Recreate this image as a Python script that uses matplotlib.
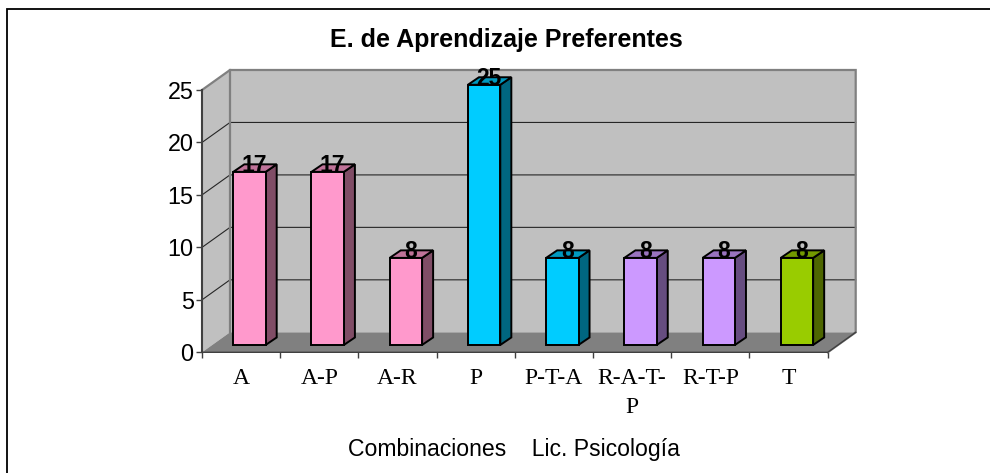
import matplotlib
matplotlib.use("Agg")
import matplotlib.pyplot as plt
from matplotlib.patches import Polygon
from matplotlib.lines import Line2D
from matplotlib.colors import to_rgb

categories = ["A", "A-P", "A-R", "P", "P-T-A", "R-A-T-\nP", "R-T-P", "T"]
values = [16.5, 16.5, 8.3, 24.8, 8.3, 8.3, 8.3, 8.3]
value_labels = ["17", "17", "8", "25", "8", "8", "8", "8"]
bar_colors = ["#FF99CC", "#FF99CC", "#FF99CC", "#00CCFF", "#00CCFF", "#CC99FF", "#CC99FF", "#99CC00"]
y_ticks = [0, 5, 10, 15, 20, 25]
title = "E. de Aprendizaje Preferentes"
x_label = "Combinaciones    Lic. Psicología"

W, H = 990, 473
fig = plt.figure(figsize=(W / 100, H / 100), dpi=100, facecolor="white")
ax = fig.add_axes([202 / W, (H - 352.3) / H, 625.7 / W, 262.3 / H])
ax.set_xlim(0, 8)
ax.set_ylim(0, 25)
ax.patch.set_visible(False)
for s in ax.spines.values():
    s.set_visible(False)

# projected depth in data units
wall_dx, wall_dy = 0.358, 1.907
off_x, off_y = 0.107, 0.70
bar_w = 0.414
bar_dx, bar_dy = 0.141, 0.715


def shade(c, f):
    return tuple(v * f for v in to_rgb(c))


# walls and floor
ax.add_patch(Polygon([(0, 0), (wall_dx, wall_dy), (wall_dx, 25 + wall_dy), (0, 25)],
                     closed=True, fc="#C0C0C0", ec="none", zorder=1, clip_on=False))
ax.add_patch(Polygon([(wall_dx, wall_dy), (8 + wall_dx, wall_dy), (8 + wall_dx, 25 + wall_dy), (wall_dx, 25 + wall_dy)],
                     closed=True, fc="#C0C0C0", ec="none", zorder=1, clip_on=False))
ax.add_patch(Polygon([(0, 0), (8, 0), (8 + wall_dx, wall_dy), (wall_dx, wall_dy)],
                     closed=True, fc="#808080", ec="none", zorder=1.5, clip_on=False))

# gridlines
for t in y_ticks[1:-1]:
    ax.plot([0, wall_dx, 8 + wall_dx], [t, t + wall_dy, t + wall_dy], color="#262626", lw=0.8,
            zorder=2, clip_on=False, solid_joinstyle="miter")

# wall edges
edge = dict(color="#808080", lw=1.6, zorder=2.5, clip_on=False, solid_joinstyle="miter")
ax.plot([0, wall_dx, 8 + wall_dx, 8 + wall_dx, 8], [25, 25 + wall_dy, 25 + wall_dy, wall_dy, 0], **edge)
ax.plot([wall_dx, wall_dx], [wall_dy, 25 + wall_dy], **edge)

# bars
xs = [i + 0.5 + off_x for i in range(len(values))]
for x, v, c in zip(xs, values, bar_colors):
    left, right = x - bar_w / 2, x + bar_w / 2
    top = off_y + v
    ax.add_patch(Polygon([(right, off_y), (right + bar_dx, off_y + bar_dy), (right + bar_dx, top + bar_dy), (right, top)],
                         closed=True, fc=shade(c, 0.5), ec="black", lw=1.4, zorder=3, joinstyle="miter", clip_on=False))
    ax.add_patch(Polygon([(left, top), (right, top), (right + bar_dx, top + bar_dy), (left + bar_dx, top + bar_dy)],
                         closed=True, fc=shade(c, 0.75), ec="black", lw=1.4, zorder=3, joinstyle="miter", clip_on=False))
ax.bar(xs, values, width=bar_w, bottom=off_y, color=bar_colors, edgecolor="black", linewidth=1.4, zorder=4, clip_on=False)

# data labels
for x, v, lab in zip(xs, values, value_labels):
    ax.text(x + bar_dx * 0.45, off_y + v, lab, ha="center", va="baseline", family="Liberation Sans",
            fontweight="bold", fontsize=16.5, color="black", zorder=5, clip_on=False)

# axes lines
ax.plot([0, 0], [0, 25], color="#404040", lw=1.5, zorder=3, clip_on=False)
ax.plot([0, 8, 8 + wall_dx], [0, 0, wall_dy], color="#404040", lw=1.0, zorder=3, clip_on=False)

ax.set_yticks(y_ticks)
ax.set_yticklabels([str(t) for t in y_ticks], family="Liberation Sans", fontsize=16.8)
ax.tick_params(axis="y", length=4.5, width=1, color="#404040", pad=1.5)
ax.set_xticks(range(9))
ax.set_xticklabels([""] * 9)
ax.tick_params(axis="x", which="major", length=4.5, width=1, color="#404040")
ax.set_xticks([i + 0.5 for i in range(8)], minor=True)
ax.set_xticklabels(categories, minor=True, family="Liberation Serif", fontsize=17, linespacing=1.5)
ax.tick_params(axis="x", which="minor", length=0, pad=11)

fig.text(506 / W, 1 - 46.7 / H, title, ha="center", va="baseline", family="Liberation Sans",
         fontweight="bold", fontsize=18)
fig.text(514 / W, 1 - 456 / H, x_label, ha="center", va="baseline", family="Liberation Sans", fontsize=16.6)

# outer border: only top and left fall inside the picture
fig.add_artist(Line2D([7 / W, 7 / W, 1], [0, 1 - 9 / H, 1 - 9 / H], color="black", lw=1.3,
                      solid_joinstyle="miter", transform=fig.transFigure))

fig.savefig("out.png", dpi=100)
